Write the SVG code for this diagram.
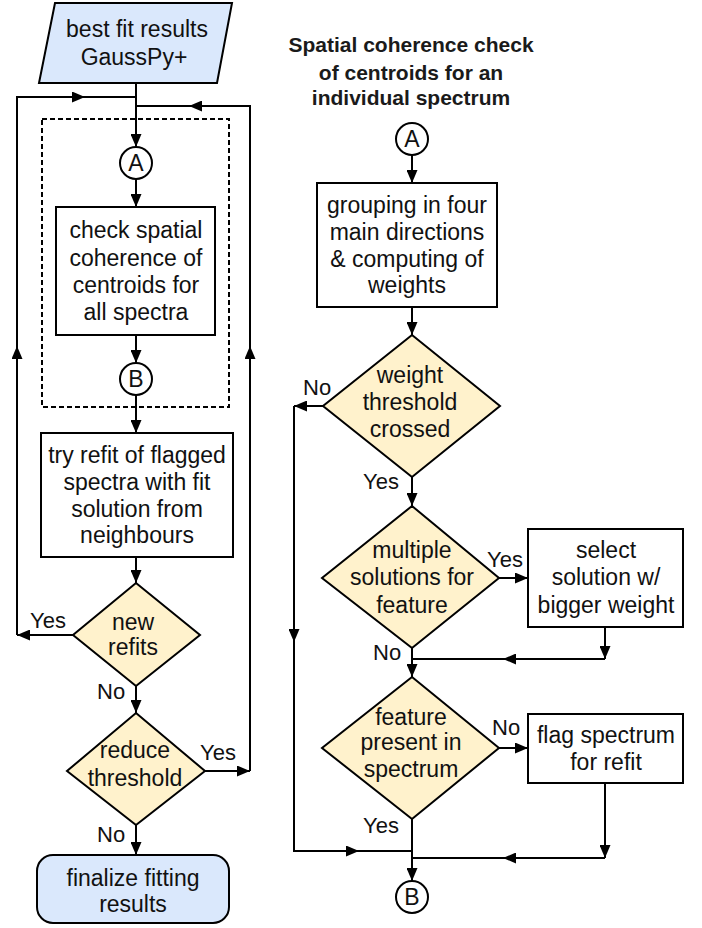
<svg xmlns="http://www.w3.org/2000/svg" width="702" height="928" viewBox="0 0 702 928">
<style>
  .t { font-family: "Liberation Sans", Arial, sans-serif; font-size: 23px; fill: #111; text-anchor: middle; }
  .l { font-family: "Liberation Sans", Arial, sans-serif; font-size: 22px; fill: #111; }
  .ttl { font-family: "Liberation Sans", Arial, sans-serif; font-size: 21px; font-weight: bold; fill: #1a1a1a; text-anchor: middle; }
  .box { fill: #ffffff; stroke: #000; stroke-width: 2; }
  .blue { fill: #dae8fc; stroke: #000; stroke-width: 2; }
  .dia { fill: #fff2cc; stroke: #000; stroke-width: 2; }
  .circ { fill: #ffffff; stroke: #000; stroke-width: 2; }
  .c { fill: none; stroke: #000; stroke-width: 2; }
  .a { fill: none; stroke: #000; stroke-width: 2; marker-end: url(#arr); }
</style>
<defs>
  <marker id="arr" markerUnits="userSpaceOnUse" markerWidth="14" markerHeight="11" viewBox="0 0 14 11" refX="13" refY="5.5" orient="auto">
    <path d="M0,0 L13,5.5 L0,11 z" fill="#000"/>
  </marker>
</defs>
<rect width="702" height="928" fill="#ffffff"/>

<g id="connectors">
  <!-- left column main flow -->
  <path class="a" d="M136,83 L136,147"/>
  <path class="a" d="M136,179 L136,207"/>
  <path class="a" d="M136,335 L136,363"/>
  <path class="a" d="M136,395 L136,433"/>
  <path class="a" d="M136,557 L136,583"/>
  <path class="a" d="M136,686 L136,713"/>
  <path class="a" d="M136,825 L136,855"/>
  <!-- left loop (Yes from new refits) -->
  <path class="a" d="M73,635 L17,635"/>
  <path class="a" d="M17,635 L17,346"/>
  <path class="a" d="M17,346 L17,97 L85,97"/>
  <path class="c" d="M85,97 L136,97"/>
  <!-- right loop (Yes from reduce threshold) -->
  <path class="a" d="M205,771 L250,771"/>
  <path class="a" d="M250,771 L250,346"/>
  <path class="a" d="M250,346 L250,106 L189,106"/>
  <path class="c" d="M189,106 L136,106"/>

  <!-- right column -->
  <path class="a" d="M412,155 L412,183"/>
  <path class="a" d="M412,307 L412,335"/>
  <path class="a" d="M323,406 L294,406"/>
  <path class="a" d="M294,406 L294,642"/>
  <path class="a" d="M294,642 L294,851 L359,851"/>
  <path class="c" d="M359,851 L412,851"/>
  <path class="a" d="M412,477 L412,506"/>
  <path class="a" d="M499,578 L528,578"/>
  <path class="a" d="M605,627 L605,659"/>
  <path class="a" d="M605,659 L503,659"/>
  <path class="c" d="M503,659 L412,659"/>
  <path class="a" d="M412,648 L412,677"/>
  <path class="a" d="M499,748 L528,748"/>
  <path class="a" d="M605,783 L605,858"/>
  <path class="a" d="M605,858 L503,858"/>
  <path class="c" d="M503,858 L412,858"/>
  <path class="a" d="M412,819 L412,881"/>
</g>

<g id="labels">
  <text class="l" x="30" y="628">Yes</text>
  <text class="l" x="97" y="699">No</text>
  <text class="l" x="200" y="760">Yes</text>
  <text class="l" x="97" y="842">No</text>
  <text class="l" x="303" y="395">No</text>
  <text class="l" x="363" y="489">Yes</text>
  <text class="l" x="487" y="567">Yes</text>
  <text class="l" x="373" y="660">No</text>
  <text class="l" x="492" y="735">No</text>
  <text class="l" x="363" y="833">Yes</text>
</g>

<g id="input">
  <polygon class="blue" points="55,3 232,3 217,83 39,83"/>
  <text class="t" x="137" y="37">best fit results</text>
  <text class="t" x="134" y="65">GaussPy+</text>
</g>

<g id="group-dashed">
  <rect x="42" y="119" width="187" height="288" fill="none" stroke="#000" stroke-width="2" stroke-dasharray="5,3"/>
</g>

<g id="connA-left">
  <circle class="circ" cx="136" cy="163" r="16"/>
  <text class="t" x="136" y="171">A</text>
</g>

<g id="check">
  <rect class="box" x="56" y="207" width="159" height="128"/>
  <text class="t" x="136" y="238">check spatial</text>
  <text class="t" x="136" y="266">coherence of</text>
  <text class="t" x="136" y="293">centroids for</text>
  <text class="t" x="136" y="320">all spectra</text>
</g>

<g id="connB-left">
  <circle class="circ" cx="136" cy="379" r="16"/>
  <text class="t" x="136" y="387">B</text>
</g>

<g id="refit">
  <rect class="box" x="41" y="433" width="192" height="124"/>
  <text class="t" x="137" y="463">try refit of flagged</text>
  <text class="t" x="137" y="490">spectra with fit</text>
  <text class="t" x="137" y="517">solution from</text>
  <text class="t" x="137" y="543">neighbours</text>
</g>

<g id="newrefits">
  <polygon class="dia" points="136,583 200,635 136,686 73,635"/>
  <text class="t" x="133" y="630">new</text>
  <text class="t" x="133" y="655">refits</text>
</g>

<g id="reduce">
  <polygon class="dia" points="136,713 205,771 136,825 67,771"/>
  <text class="t" x="135" y="758">reduce</text>
  <text class="t" x="135" y="786">threshold</text>
</g>

<g id="finalize">
  <rect class="blue" x="37" y="855" width="192" height="68" rx="16" ry="16"/>
  <text class="t" x="133" y="886">finalize fitting</text>
  <text class="t" x="133" y="912">results</text>
</g>

<g id="title">
  <text class="ttl" x="411" y="52">Spatial coherence check</text>
  <text class="ttl" x="411" y="80">of centroids for an</text>
  <text class="ttl" x="411" y="105">individual spectrum</text>
</g>

<g id="connA-right">
  <circle class="circ" cx="412" cy="139" r="16"/>
  <text class="t" x="412" y="147">A</text>
</g>

<g id="grouping">
  <rect class="box" x="317" y="183" width="180" height="124"/>
  <text class="t" x="407" y="213">grouping in four</text>
  <text class="t" x="407" y="240">main directions</text>
  <text class="t" x="407" y="267">&amp; computing of</text>
  <text class="t" x="407" y="293">weights</text>
</g>

<g id="weight">
  <polygon class="dia" points="412,335 500,406 412,477 323,406"/>
  <text class="t" x="410" y="383">weight</text>
  <text class="t" x="410" y="410">threshold</text>
  <text class="t" x="410" y="437">crossed</text>
</g>

<g id="multiple">
  <polygon class="dia" points="412,506 499,578 412,648 322,578"/>
  <text class="t" x="412" y="558">multiple</text>
  <text class="t" x="412" y="585">solutions for</text>
  <text class="t" x="412" y="613">feature</text>
</g>

<g id="select">
  <rect class="box" x="528" y="529" width="155" height="98"/>
  <text class="t" x="606" y="558">select</text>
  <text class="t" x="606" y="585">solution w/</text>
  <text class="t" x="606" y="613">bigger weight</text>
</g>

<g id="present">
  <polygon class="dia" points="412,677 499,748 412,819 322,748"/>
  <text class="t" x="411" y="725">feature</text>
  <text class="t" x="411" y="750">present in</text>
  <text class="t" x="411" y="777">spectrum</text>
</g>

<g id="flag">
  <rect class="box" x="528" y="714" width="155" height="69"/>
  <text class="t" x="606" y="743">flag spectrum</text>
  <text class="t" x="606" y="770">for refit</text>
</g>

<g id="connB-right">
  <circle class="circ" cx="412" cy="897" r="16"/>
  <text class="t" x="412" y="905">B</text>
</g>
</svg>
